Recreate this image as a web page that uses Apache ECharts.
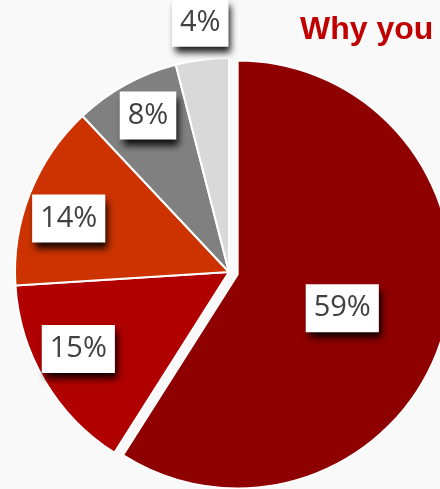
<!DOCTYPE html>
<html>
<head>
<meta charset="utf-8">
<script src="https://cdn.jsdelivr.net/npm/echarts@6/dist/echarts.min.js"></script>
<style>
html,body{margin:0;padding:0;background:#f9f9f9;}
#chart{width:440px;height:489px;}
</style>
</head>
<body>
<div id="chart"></div>
<script>
// Data
var categories = ['A', 'B', 'C', 'D', 'E'];
var values = [59, 15, 14, 8, 4];
var labelTexts = ['59%', '15%', '14%', '8%', '4%'];
var titleText = 'Why you';

// Styles
var colors = ['#8f0000', '#b00000', '#cc3300', '#808080', '#d9d9d9'];
var explodedIndex = 0;
// label nudges from the default inside position (Excel "best fit" placement)
var labelNudge = [[-1, 3], [-56, 21], [-58, -13], [-28, -60], [-15, -140]];

var chart = echarts.init(document.getElementById('chart'), null, {renderer: 'canvas'});

var data = categories.map(function (c, i) {
  return {
    name: c,
    value: values[i],
    selected: i === explodedIndex,
    itemStyle: {color: colors[i]}
  };
});

chart.setOption({
  backgroundColor: '#f9f9f9',
  animation: false,
  title: {
    text: titleText,
    left: 295,
    top: 9,
    textStyle: {
      color: '#c00000',
      fontFamily: 'Liberation Sans',
      fontWeight: 'bold',
      fontSize: 32
    }
  },
  series: [{
    type: 'pie',
    center: [229, 272],
    radius: 214,
    startAngle: 90,
    clockwise: true,
    selectedMode: 'single',
    selectedOffset: 9,
    avoidLabelOverlap: false,
    data: data,
    itemStyle: {borderColor: '#ffffff', borderWidth: 2},
    select: {itemStyle: {borderColor: '#ffffff', borderWidth: 2}},
    emphasis: {disabled: true},
    label: {
      show: true,
      position: 'inside',
      formatter: function (p) { return labelTexts[p.dataIndex]; },
      color: '#404040',
      fontFamily: 'Open Sans',
      fontSize: 29,
      lineHeight: 32,
      backgroundColor: '#ffffff',
      padding: [8, 8],
      shadowColor: 'rgba(0,0,0,0.9)',
      shadowBlur: 7,
      shadowOffsetX: 3,
      shadowOffsetY: 6
    },
    labelLine: {show: false},
    labelLayout: function (p) {
      var n = labelNudge[p.dataIndex];
      return {dx: n[0], dy: n[1]};
    }
  }]
});
</script>
</body>
</html>
